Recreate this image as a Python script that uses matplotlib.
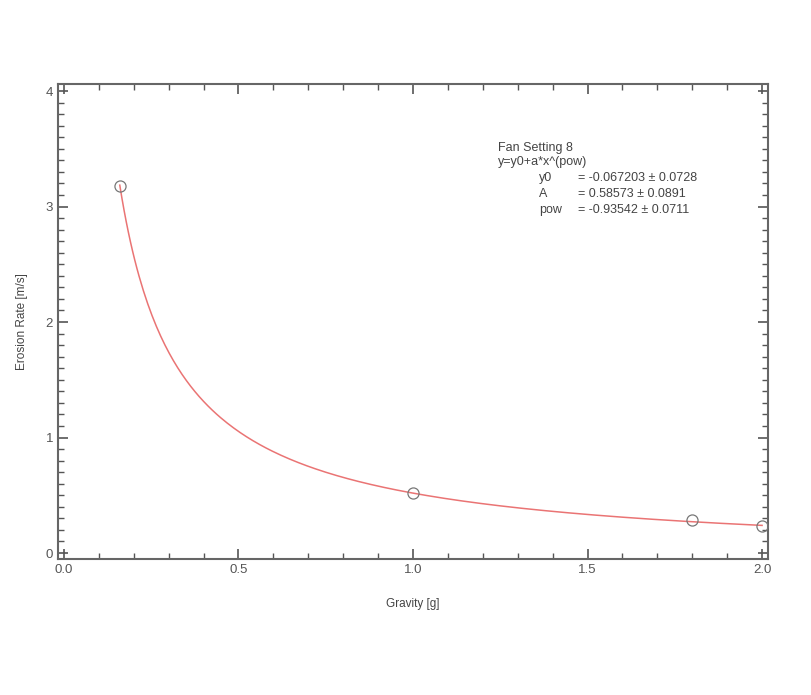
import numpy as np
import matplotlib.pyplot as plt
from matplotlib.ticker import MultipleLocator

# measured points
gravity = [0.16, 1.0, 1.8, 2.0]
erosion = [3.18, 0.52, 0.285, 0.235]

# fit parameters shown in the legend box
y0, A, pw = -0.067203, 0.58573, -0.93542
fit_lines = ["y0", "A", "pow"]
fit_vals = ["= -0.067203 \u00b1 0.0728", "= 0.58573 \u00b1 0.0891", "= -0.93542 \u00b1 0.0711"]

plt.rcParams['font.family'] = ['Liberation Sans', 'DejaVu Sans']
grey = '#555555'
txt = '#444444'

fig = plt.figure(figsize=(8.11, 6.95), dpi=100)
ax = fig.add_axes([0.0715, 0.196, 0.8755, 0.683])

xs = np.linspace(min(gravity), max(gravity), 300)
ax.plot(xs, y0 + A * xs ** pw, color='#ea7474', lw=1.1, zorder=2)
ax.plot(gravity, erosion, 'o', ms=8, mfc='none', mec='#777777', mew=0.9, zorder=3)

ax.set_xlim(-0.017, 2.017)
ax.set_ylim(-0.05, 4.06)
ax.xaxis.set_major_locator(MultipleLocator(0.5))
ax.xaxis.set_minor_locator(MultipleLocator(0.1))
ax.yaxis.set_major_locator(MultipleLocator(1))
ax.yaxis.set_minor_locator(MultipleLocator(0.1))
ax.xaxis.set_major_formatter(plt.FormatStrFormatter('%.1f'))
ax.tick_params(which='both', direction='in', top=True, right=True, colors=grey,
               labelcolor=grey, labelsize=9.5)
ax.tick_params(which='major', length=7, width=1.2)
ax.tick_params(which='minor', length=4, width=1.0)
for s in ax.spines.values():
    s.set_color('#666666')
    s.set_linewidth(1.5)

ax.set_xlabel('Gravity [g]', fontsize=8.5, color=txt, labelpad=16)
ax.set_ylabel('Erosion Rate [m/s]', fontsize=8.5, color=txt, labelpad=13)

# annotation box
ax.text(0.620, 0.865, 'Fan Setting 8', transform=ax.transAxes, fontsize=9, color=txt, va='center')
ax.text(0.620, 0.836, 'y=y0+a*x^(pow)', transform=ax.transAxes, fontsize=9, color=txt, va='center')
for i, (lab, val) in enumerate(zip(fit_lines, fit_vals)):
    yy = 0.803 - i * 0.034
    ax.text(0.677, yy, lab, transform=ax.transAxes, fontsize=9, color=txt, va='center')
    ax.text(0.733, yy, val, transform=ax.transAxes, fontsize=9, color=txt, va='center')

fig.savefig('out.png', dpi=100)
